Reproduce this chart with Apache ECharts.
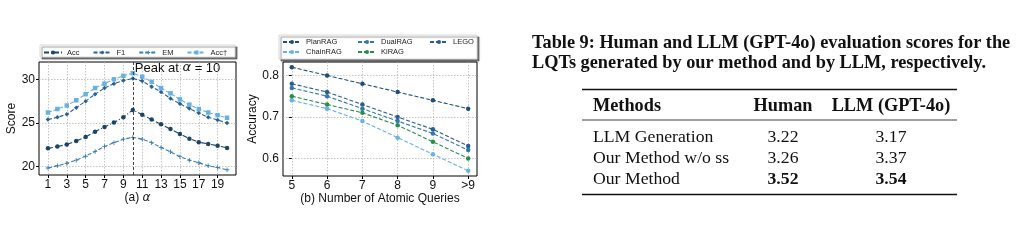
<!DOCTYPE html>
<html>
<head>
<meta charset="utf-8">
<script src="https://cdn.jsdelivr.net/npm/echarts@6/dist/echarts.min.js"></script>
<style>
  html, body { margin: 0; padding: 0; background: #fff; }
  #main { width: 1018px; height: 245px; }
</style>
</head>
<body>
<div id="main"></div>
<script>
// (a) scores vs alpha
const alphas = [1, 2, 3, 4, 5, 6, 7, 8, 9, 10, 11, 12, 13, 14, 15, 16, 17, 18, 19, 20];
const alphaTicks = [1, 3, 5, 7, 9, 11, 13, 15, 17, 19];
const scoreTicks = [20, 25, 30];
const accScores = [22.1, 22.3, 22.55, 22.95, 23.4, 24.0, 24.55, 25.05, 25.65, 26.5, 25.95, 25.4, 24.85, 24.3, 23.75, 23.2, 22.8, 22.6, 22.4, 22.15];
const f1Scores = [25.4, 25.65, 26.0, 26.75, 27.5, 28.3, 29.0, 29.5, 29.85, 30.1, 29.8, 29.15, 28.55, 27.8, 27.2, 26.65, 26.15, 25.65, 25.35, 25.0];
const emScores = [19.85, 20.1, 20.4, 20.75, 21.2, 21.75, 22.3, 22.75, 23.15, 23.35, 23.15, 22.75, 22.2, 21.7, 21.15, 20.75, 20.45, 20.1, 19.9, 19.65];
const accDaggerScores = [26.2, 26.6, 27.0, 27.6, 28.3, 29.0, 29.5, 30.0, 30.4, 30.7, 30.3, 29.7, 29.0, 28.4, 27.7, 27.1, 26.6, 26.2, 25.9, 25.6];
const peakAlpha = 10;

// (b) accuracy vs number of atomic queries
const queryLabels = ['5', '6', '7', '8', '9', '>9'];
const accTicks = [0.6, 0.7, 0.8];
const planRAG = [0.82, 0.80, 0.78, 0.76, 0.74, 0.72];
const chainRAG = [0.74, 0.72, 0.69, 0.65, 0.61, 0.57];
const dualRAG = [0.77, 0.75, 0.72, 0.69, 0.66, 0.62];
const kiRAG = [0.75, 0.73, 0.71, 0.68, 0.64, 0.60];
const lego = [0.78, 0.76, 0.73, 0.70, 0.67, 0.63];

// Table 9
const captionLines = [
  'Table 9: Human and LLM (GPT-4o) evaluation scores for the',
  'LQTs generated by our method and by LLM, respectively.'
];
const tableHeader = ['Methods', 'Human', 'LLM (GPT-4o)'];
const tableMethods = ['LLM Generation', 'Our Method w/o ss', 'Our Method'];
const humanScores = ['3.22', '3.26', '3.52'];
const llmScores = ['3.17', '3.37', '3.54'];
const boldRow = 2;

const FONT = 'Liberation Sans, Arial, sans-serif';
const SERIF = 'Liberation Serif, Times New Roman, serif';
const gridLine = { show: true, lineStyle: { color: '#b5b5b5', type: [1.5, 1.5], width: 0.8 } };

function lineSeries(name, xs, ys, color, dash, symbol, xi) {
  return {
    name: name,
    type: 'line',
    xAxisIndex: xi,
    yAxisIndex: xi,
    data: ys.map((v, i) => [xs[i], v]),
    symbol: symbol,
    symbolSize: 4.5,
    itemStyle: { color: color },
    lineStyle: { color: color, width: 1.1, type: dash },
    emphasis: { disabled: true },
    animation: false
  };
}

const queryIdx = queryLabels.map((_, i) => i);
const plusPath = 'path://M4,0H6V4H10V6H6V10H4V6H0V4H4Z';

const series = [
  lineSeries('Acc', alphas, accScores, '#1d4566', [5, 2, 1, 2], 'circle', 0),
  lineSeries('F1', alphas, f1Scores, '#2a6190', [4, 2], 'diamond', 0),
  lineSeries('EM', alphas, emScores, '#3b7db5', [4, 2], plusPath, 0),
  lineSeries('Acc†', alphas, accDaggerScores, '#66b1e4', [4, 2], 'rect', 0),
  lineSeries('PlanRAG', queryIdx, planRAG, '#1f4e79', [4, 2], 'circle', 1),
  lineSeries('ChainRAG', queryIdx, chainRAG, '#67b2e6', [4, 2], 'circle', 1),
  lineSeries('DualRAG', queryIdx, dualRAG, '#3377b0', [4, 2], 'circle', 1),
  lineSeries('KiRAG', queryIdx, kiRAG, '#2b8c4c', [4, 2], 'circle', 1),
  lineSeries('LEGO', queryIdx, lego, '#285f8f', [4, 2], 'circle', 1)
];

series[3].markLine = {
  symbol: 'none',
  silent: true,
  animation: false,
  label: { show: false },
  lineStyle: { color: '#333', type: [3, 2], width: 0.9 },
  data: [{ xAxis: peakAlpha }]
};
series[3].markPoint = {
  symbol: 'rect',
  symbolSize: 0,
  silent: true,
  animation: false,
  label: {
    show: true,
    position: 'right',
    distance: 2,
    offset: [0, 6],
    formatter: '{t|Peak at }{i|α}{t| = 10}',
    rich: {
      t: { fontFamily: FONT, fontSize: 13, color: '#111' },
      i: { fontFamily: 'DejaVu Sans', fontStyle: 'italic', fontSize: 13, color: '#111' }
    }
  },
  data: [{ coord: [peakAlpha, 31.98] }]
};

// legend boxes and table
const graphics = [
  { type: 'rect', z: 1, shape: { x: 40, y: 45, width: 195, height: 12 },
    style: { fill: '#fff', stroke: '#cfcfcf', lineWidth: 0.8, shadowColor: 'rgba(0,0,0,0.5)', shadowOffsetX: 2, shadowOffsetY: 2, shadowBlur: 1 } },
  { type: 'rect', z: 1, shape: { x: 279, y: 35, width: 198, height: 24 },
    style: { fill: '#fff', stroke: '#cfcfcf', lineWidth: 0.8, shadowColor: 'rgba(0,0,0,0.5)', shadowOffsetX: 2, shadowOffsetY: 2, shadowBlur: 1 } }
];
captionLines.forEach((t, i) => {
  graphics.push({ type: 'text', x: 532, y: 43.5 + i * 20,
    style: { text: t, font: 'bold 18.3px ' + SERIF, fill: '#111', verticalAlign: 'middle' } });
});
const ruleX1 = 582, ruleX2 = 957;
[[89.5, 1.3], [120, 0.8], [194.5, 1.3]].forEach(r => {
  graphics.push({ type: 'line', shape: { x1: ruleX1, y1: r[0], x2: ruleX2, y2: r[0] }, style: { stroke: '#111', lineWidth: r[1] } });
});
const colX = [593, 783, 891];
const headerY = 106;
const rowY = [137.5, 158, 179];
tableHeader.forEach((t, c) => {
  graphics.push({ type: 'text', x: colX[c], y: headerY,
    style: { text: t, font: 'bold 18.3px ' + SERIF, fill: '#111', align: c === 0 ? 'left' : 'center', verticalAlign: 'middle' } });
});
tableMethods.forEach((m, r) => {
  const w = r === boldRow ? 'bold ' : '';
  graphics.push({ type: 'text', x: colX[0], y: rowY[r],
    style: { text: m, font: '17.7px ' + SERIF, fill: '#111', align: 'left', verticalAlign: 'middle' } });
  graphics.push({ type: 'text', x: colX[1], y: rowY[r],
    style: { text: humanScores[r], font: w + '17.7px ' + SERIF, fill: '#111', align: 'center', verticalAlign: 'middle' } });
  graphics.push({ type: 'text', x: colX[2], y: rowY[r],
    style: { text: llmScores[r], font: w + '17.7px ' + SERIF, fill: '#111', align: 'center', verticalAlign: 'middle' } });
});

const legendText = { fontFamily: FONT, fontSize: 7.5, color: '#222' };
const legendBase = { itemWidth: 18, itemHeight: 5, padding: 0, textStyle: legendText, selectedMode: false, z: 5 };

const chart = echarts.init(document.getElementById('main'));
chart.setOption({
  animation: false,
  backgroundColor: '#fff',
  textStyle: { fontFamily: FONT },
  grid: [
    { left: 39, top: 62, width: 197, height: 113, show: true, borderColor: '#000', borderWidth: 1, backgroundColor: 'transparent' },
    { left: 283, top: 62, width: 194, height: 114, show: true, borderColor: '#000', borderWidth: 1, backgroundColor: 'transparent' }
  ],
  xAxis: [
    {
      type: 'value', gridIndex: 0, min: 0.05, max: 20.95,
      name: '{t|(a) }{i|α}', nameLocation: 'middle', nameGap: 16,
      nameTextStyle: { rich: { t: { fontFamily: FONT, fontSize: 12, color: '#111' }, i: { fontFamily: 'DejaVu Sans', fontStyle: 'italic', fontSize: 12, color: '#111' } } },
      axisLine: { show: false },
      axisTick: { show: true, length: 3, customValues: alphaTicks, lineStyle: { color: '#000' } },
      axisLabel: { customValues: alphaTicks, fontSize: 12, color: '#111', margin: 4 },
      splitLine: gridLine
    },
    {
      type: 'value', gridIndex: 1, min: -0.25, max: 5.25,
      name: '(b) Number of Atomic Queries', nameLocation: 'middle', nameGap: 17,
      nameTextStyle: { fontSize: 12, color: '#111' },
      axisLine: { show: false },
      axisTick: { show: true, length: 3, customValues: queryIdx, lineStyle: { color: '#000' } },
      axisLabel: { customValues: queryIdx, fontSize: 12, color: '#111', margin: 4, formatter: v => queryLabels[Math.round(v)] },
      splitLine: gridLine
    }
  ],
  yAxis: [
    {
      type: 'value', gridIndex: 0, min: 19.05, max: 31.98,
      name: 'Score', nameLocation: 'middle', nameGap: 21,
      nameTextStyle: { fontSize: 12, color: '#111' },
      axisLine: { show: false },
      axisTick: { show: true, length: 3, customValues: scoreTicks, lineStyle: { color: '#000' } },
      axisLabel: { customValues: scoreTicks, fontSize: 12, color: '#111', margin: 4 },
      splitLine: gridLine
    },
    {
      type: 'value', gridIndex: 1, min: 0.5575, max: 0.8325,
      name: 'Accuracy', nameLocation: 'middle', nameGap: 24,
      nameTextStyle: { fontSize: 12, color: '#111' },
      axisLine: { show: false },
      axisTick: { show: true, length: 3, customValues: accTicks, lineStyle: { color: '#000' } },
      axisLabel: { customValues: accTicks, fontSize: 12, color: '#111', margin: 4, formatter: v => v.toFixed(1) },
      splitLine: gridLine
    }
  ],
  legend: [
    Object.assign({}, legendBase, { left: 43, top: 48.5, itemGap: 13, orient: 'horizontal', data: ['Acc', 'F1', 'EM', 'Acc†'] }),
    Object.assign({}, legendBase, { left: 282, top: 38, itemGap: 2, orient: 'vertical', data: ['PlanRAG', 'ChainRAG'] }),
    Object.assign({}, legendBase, { left: 357, top: 38, itemGap: 2, orient: 'vertical', data: ['DualRAG', 'KiRAG'] }),
    Object.assign({}, legendBase, { left: 429, top: 38, itemGap: 2, orient: 'vertical', data: ['LEGO'] })
  ],
  graphic: graphics,
  series: series
});
</script>
</body>
</html>
